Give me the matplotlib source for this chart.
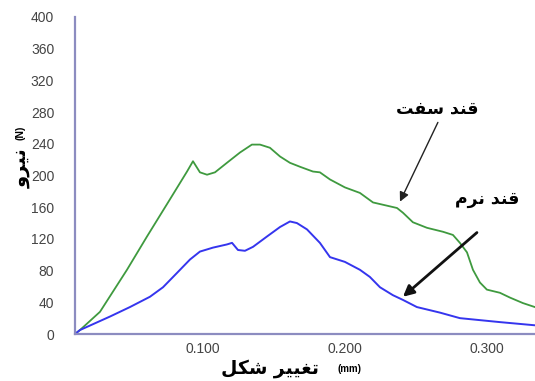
import numpy as np
import matplotlib
matplotlib.use('Agg')
import matplotlib.pyplot as plt

# deformation (mm) vs force (N)
hard_x = [0.010, 0.0135, 0.0276, 0.0466, 0.0607, 0.0769, 0.0889, 0.0931, 0.0980, 0.1030,
          0.1086, 0.1170, 0.1262, 0.1346, 0.1403, 0.1473, 0.1544, 0.1614, 0.1685, 0.1776,
          0.1825, 0.1896, 0.2001, 0.2107, 0.2199, 0.2368, 0.2410, 0.2480, 0.2579, 0.2692,
          0.2762, 0.2811, 0.2861, 0.2903, 0.2952, 0.3001, 0.3093, 0.3163, 0.3255, 0.3339]
hard_y = [0, 5, 28, 81, 123, 170, 205, 218, 204, 201,
          204, 216, 229, 239, 239, 235, 224, 216, 211, 205,
          204, 195, 185, 178, 166, 159, 153, 141, 134, 129,
          125, 115, 103, 81, 65, 56, 52, 46, 39, 34]

soft_x = [0.010, 0.0135, 0.0346, 0.0487, 0.0628, 0.0720, 0.0818, 0.0910, 0.0980, 0.1072,
          0.1170, 0.1206, 0.1248, 0.1297, 0.1354, 0.1452, 0.1544, 0.1614, 0.1663, 0.1734,
          0.1825, 0.1896, 0.2001, 0.2107, 0.2177, 0.2248, 0.2339, 0.2410, 0.2508, 0.2670,
          0.2811, 0.3093, 0.3339]
soft_y = [0, 5, 22, 34, 47, 59, 77, 94, 104, 109,
          113, 115, 106, 105, 110, 123, 135, 142, 140, 132,
          115, 97, 91, 81, 72, 59, 49, 43, 34, 27,
          20, 15, 11]

x_ticks = [0.1, 0.2, 0.3]
x_ticklabels = ['0.100', '0.200', '0.300']
y_ticks = [0, 40, 80, 120, 160, 200, 240, 280, 320, 360, 400]

# Persian labels, written in visual order with presentation forms
lbl_x = '\ufede\ufedc\ufeb7 \ufeae\ufef4\ufef4\ufed0\ufe97'   # تغییر شکل
lbl_y = '\ufeed\ufeae\ufef4\ufee7'                              # نیرو
lbl_hard = '\ufe96\ufed4\ufeb3 \ufeaa\ufee8\ufed7'              # قند سفت
lbl_soft = '\ufee1\ufeae\ufee7 \ufeaa\ufee8\ufed7'              # قند نرم

fig = plt.figure(figsize=(5.35, 3.81), dpi=100)
ax = fig.add_axes([75 / 535, 47 / 381, 460 / 535, 317 / 381])

ax.plot(hard_x, hard_y, color='#3f9a3f', lw=1.3)
ax.plot(soft_x, soft_y, color='#3535ee', lw=1.4)

ax.set_xlim(0.010, 0.334)
ax.set_ylim(0, 400)
ax.set_xticks(x_ticks)
ax.set_xticklabels(x_ticklabels)
ax.set_yticks(y_ticks)
for s in ['top', 'right']:
    ax.spines[s].set_visible(False)
for s in ['left', 'bottom']:
    ax.spines[s].set_color('#8c8cc0')
    ax.spines[s].set_linewidth(1.6)
ax.tick_params(length=0, labelsize=10, colors='#444444')
ax.tick_params(axis='y', pad=15)
ax.tick_params(axis='x', pad=6)
for t in ax.get_xticklabels() + ax.get_yticklabels():
    t.set_fontfamily('Liberation Sans')

# axis titles
fig.text(270 / 535, 1 - 368 / 381, lbl_x, ha='center', va='center',
         fontsize=13.5, fontweight='bold', family=['DejaVu Sans'])
fig.text(350 / 535, 1 - 369 / 381, '(mm)', ha='center', va='center',
         fontsize=7, fontweight='bold', family=['Liberation Sans'])
fig.text(21 / 535, 1 - 168 / 381, lbl_y, ha='center', va='center', rotation=90,
         fontsize=14, fontweight='bold', family=['DejaVu Sans'])
fig.text(21 / 535, 1 - 133 / 381, '(N)', ha='center', va='center', rotation=90,
         fontsize=7.5, fontweight='bold', family=['Liberation Sans'])

# annotations
ax.text(0.2649, 284, lbl_hard, ha='center', va='center', fontsize=12.5, fontweight='bold')
ax.annotate('', xy=(0.2389, 167), xytext=(0.2656, 267),
            arrowprops=dict(arrowstyle='-|>', color='#222222', lw=1.0,
                            mutation_scale=14, shrinkA=0, shrinkB=0))
ax.text(0.3001, 170, lbl_soft, ha='center', va='center', fontsize=12.5, fontweight='bold')
ax.annotate('', xy=(0.2410, 47), xytext=(0.2931, 128),
            arrowprops=dict(arrowstyle='-|>', color='#111111', lw=2.0,
                            mutation_scale=16, shrinkA=0, shrinkB=0))

fig.savefig('out.png', dpi=100)
